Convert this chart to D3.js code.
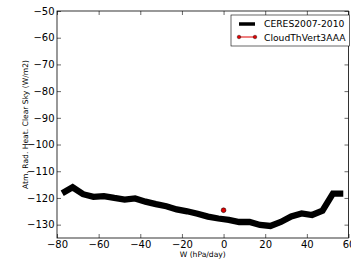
<!DOCTYPE html>
<html>
<head>
<meta charset="utf-8">
<script src="https://cdn.jsdelivr.net/npm/d3@7"></script>
<style>
  body { margin: 0; background: #fff; }
  svg { display: block; font-family: "DejaVu Sans", sans-serif; }
</style>
</head>
<body>
<svg id="chart" width="351" height="264"></svg>
<script>
// Data
const ceresW = [-77.5, -72.5, -67.5, -62.5, -57.5, -52.5, -47.5, -42.5, -37.5, -32.5,
  -27.5, -22.5, -17.5, -12.5, -7.5, -2.5, 2.5, 7.5, 12.5, 17.5,
  22.5, 27.5, 32.5, 37.5, 42.5, 47.5, 52.5, 57.5];
const ceresVal = [-118.2, -116.0, -118.6, -119.6, -119.3, -120.0, -120.6, -120.2, -121.4, -122.3,
  -123.1, -124.3, -125.0, -125.9, -127.0, -127.7, -128.2, -129.0, -129.0, -130.1,
  -130.5, -129.0, -126.9, -125.8, -126.4, -124.8, -118.4, -118.4];
const modelW = [0];
const modelVal = [-124.6];
const xTicks = [-80, -60, -40, -20, 0, 20, 40, 60];
const yTicks = [-130, -120, -110, -100, -90, -80, -70, -60, -50];
const seriesNames = ['CERES2007-2010', 'CloudThVert3AAA'];

const svg = d3.select('#chart');
const m = { left: 57, right: 348.5, top: 11, bottom: 238 };

const x = d3.scaleLinear().domain([-80, 60]).range([m.left, m.right]);
const y = d3.scaleLinear().domain([-135, -50]).range([m.bottom, m.top]);

const fmt = d => (d < 0 ? '\u2212' + Math.abs(d) : '' + d);

// CERES line
const line = d3.line().x((d, i) => x(ceresW[i])).y(d => y(d));
svg.append('path')
  .datum(ceresVal)
  .attr('d', line)
  .attr('fill', 'none')
  .attr('stroke', '#000')
  .attr('stroke-width', 6.3)
  .attr('stroke-linejoin', 'miter');

// model point
svg.selectAll('.pt').data(modelVal).enter().append('circle')
  .attr('cx', (d, i) => x(modelW[i]))
  .attr('cy', d => y(d))
  .attr('r', 2.4)
  .attr('fill', '#e00000')
  .attr('stroke', '#000')
  .attr('stroke-width', 0.5);

// axes (ticks inside, all four sides)
const ax = svg.append('g').attr('font-size', 8);

const axB = ax.append('g').attr('transform', `translate(0,${m.bottom})`)
  .call(d3.axisBottom(x).tickValues(xTicks).tickSize(-4).tickPadding(3).tickFormat(fmt));
const axT = ax.append('g').attr('transform', `translate(0,${m.top})`)
  .call(d3.axisTop(x).tickValues(xTicks).tickSize(-4).tickFormat(''));
const axL = ax.append('g').attr('transform', `translate(${m.left},0)`)
  .call(d3.axisLeft(y).tickValues(yTicks).tickSize(-4).tickPadding(2.5).tickFormat(fmt));
const axR = ax.append('g').attr('transform', `translate(${m.right},0)`)
  .call(d3.axisRight(y).tickValues(yTicks).tickSize(-4).tickFormat(''));

[axB, axT, axL, axR].forEach(g => {
  g.select('.domain').remove();
  g.selectAll('line').attr('stroke', '#000').attr('stroke-width', 0.6);
  g.selectAll('text').attr('fill', '#000').attr('font-family', 'DejaVu Sans');
});

svg.append('rect')
  .attr('x', m.left).attr('y', m.top)
  .attr('width', m.right - m.left).attr('height', m.bottom - m.top)
  .attr('fill', 'none').attr('stroke', '#000').attr('stroke-width', 0.8);

// axis labels
svg.append('text')
  .attr('x', (m.left + m.right) / 2).attr('y', 256.5)
  .attr('text-anchor', 'middle').attr('font-size', 7.6)
  .text('W (hPa/day)');
svg.append('text')
  .attr('transform', `translate(27.5,${(m.top + m.bottom) / 2}) rotate(-90)`)
  .attr('text-anchor', 'middle').attr('font-size', 7.6)
  .text('Atm. Rad. Heat. Clear Sky (W/m2)');

// legend
const lg = svg.append('g').attr('transform', 'translate(231,15)');
lg.append('rect').attr('width', 118.5).attr('height', 31)
  .attr('fill', '#fff').attr('stroke', '#000').attr('stroke-width', 0.6);
lg.append('line').attr('x1', 8).attr('x2', 24).attr('y1', 9).attr('y2', 9)
  .attr('stroke', '#000').attr('stroke-width', 3.5);
lg.append('line').attr('x1', 8).attr('x2', 24).attr('y1', 22).attr('y2', 22)
  .attr('stroke', '#e00000').attr('stroke-width', 1);
[8, 24].forEach(cx => {
  lg.append('circle').attr('cx', cx).attr('cy', 22).attr('r', 1.8)
    .attr('fill', '#e00000').attr('stroke', '#000').attr('stroke-width', 0.4);
});
lg.selectAll('.lt').data(seriesNames).enter().append('text')
  .attr('x', 33).attr('y', (d, i) => 11.5 + i * 14)
  .attr('font-size', 9.2)
  .text(d => d);
</script>
</body>
</html>
